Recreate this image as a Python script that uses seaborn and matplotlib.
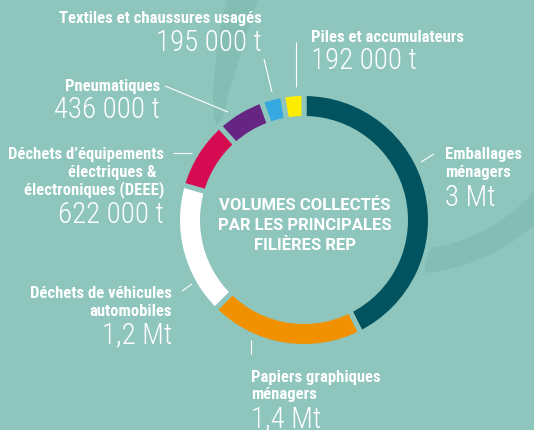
import matplotlib
matplotlib.use("Agg")
import matplotlib.pyplot as plt
import seaborn as sns
from matplotlib import font_manager as fm
from matplotlib.patches import Wedge, Polygon

# Data
categories = ["Emballages ménagers", "Papiers graphiques ménagers",
              "Déchets de véhicules automobiles",
              "Déchets d’équipements électriques & électroniques (DEEE)",
              "Pneumatiques", "Textiles et chaussures usagés",
              "Piles et accumulateurs"]
volumes_t = [3_000_000, 1_400_000, 1_200_000, 622_000, 436_000, 195_000, 192_000]
value_labels = ["3 Mt", "1,4 Mt", "1,2 Mt", "622 000 t", "436 000 t",
                "195 000 t", "192 000 t"]
segment_colors = ["#00535f", "#f29100", "#ffffff", "#d60b52", "#662483",
                  "#36a9e1", "#ffed00"]

BG = "#8ec5bd"
BAND = "#83bdb4"
W, H = 534, 431

sns.set_style("white")
names = {f.name for f in fm.fontManager.ttflist}
COND = "Roboto Condensed" if "Roboto Condensed" in names else "Roboto"
plt.rcParams['font.family'] = [COND, 'DejaVu Sans']


def Y(py):
    return H - py


fig = plt.figure(figsize=(W / 100, H / 100), dpi=100, facecolor=BG)
ax = fig.add_axes([0, 0, 1, 1])
ax.set_facecolor(BG)

# decorative background arc (right part + tapering left tail)
ax.add_patch(Wedge((405, Y(80)), 195, -84, -30, width=24,
                   facecolor=BAND, edgecolor="none", zorder=0))
tail = [(229, -5), (227, 0), (220, 30), (215, 67), (213, 100), (214, 120),
        (218, 129), (222, 122), (227, 100), (237, 67), (248, 30), (258, 0),
        (260, -5)]
ax.add_patch(Polygon([(x, Y(y)) for x, y in tail], closed=True,
                     facecolor=BAND, edgecolor="none", zorder=0))

# donut
ax.pie(volumes_t, colors=segment_colors, startangle=90, counterclock=False,
       center=(304, Y(221)), radius=126.5,
       wedgeprops=dict(width=25, edgecolor=BG, linewidth=3.6))

ax.set_xlim(0, W)
ax.set_ylim(0, H)
ax.set_aspect("equal")
ax.axis("off")


def label(x, y_lines, lines, num_y, num, ha):
    for yy, txt in zip(y_lines, lines):
        ax.text(x, Y(yy), txt, ha=ha, va="center", color="white",
                fontsize=12, fontweight="bold")
    ax.text(x, Y(num_y), num, ha=ha, va="center", color="white",
            fontsize=20.8, fontweight="light")


def leader(x1, y1, x2, y2):
    ax.plot([x1, x2], [Y(y1), Y(y2)], color="white", lw=0.8,
            solid_capstyle="butt")


label(262, [18], ["Textiles et chaussures usagés"], 43, value_labels[5], "right")
leader(264, 60, 272, 93)

label(311, [37], ["Piles et accumulateurs"], 61, value_labels[6], "left")
leader(296, 43, 296, 88)

label(160, [86], ["Pneumatiques"], 110, value_labels[4], "right")
leader(165, 87, 228, 113)

label(164, [155, 172, 190],
      ["Déchets d’équipements", "électriques &  ", "électroniques (DEEE)"],
      215, value_labels[3], "right")
leader(173, 154, 192, 154)

label(172, [293, 311], ["Déchets de véhicules", "automobiles"], 335,
      value_labels[2], "right")
leader(182, 292, 192, 285)

label(251, [378, 395], ["Papiers graphiques", "ménagers"], 419,
      value_labels[1], "left")
leader(251, 341, 251, 355)

label(445, [155, 172], ["Emballages", "ménagers"], 198, value_labels[0], "left")
leader(421, 163, 434, 155)

center_lines = ["VOLUMES COLLECTÉS", "PAR LES PRINCIPALES", "FILIÈRES REP"]
for yy, txt in zip([205, 226, 246], center_lines):
    ax.text(305, Y(yy), txt, ha="center", va="center", color="white",
            fontsize=12, fontweight="bold", family=["Roboto", "DejaVu Sans"])

fig.savefig("out.png", dpi=100, facecolor=BG)
